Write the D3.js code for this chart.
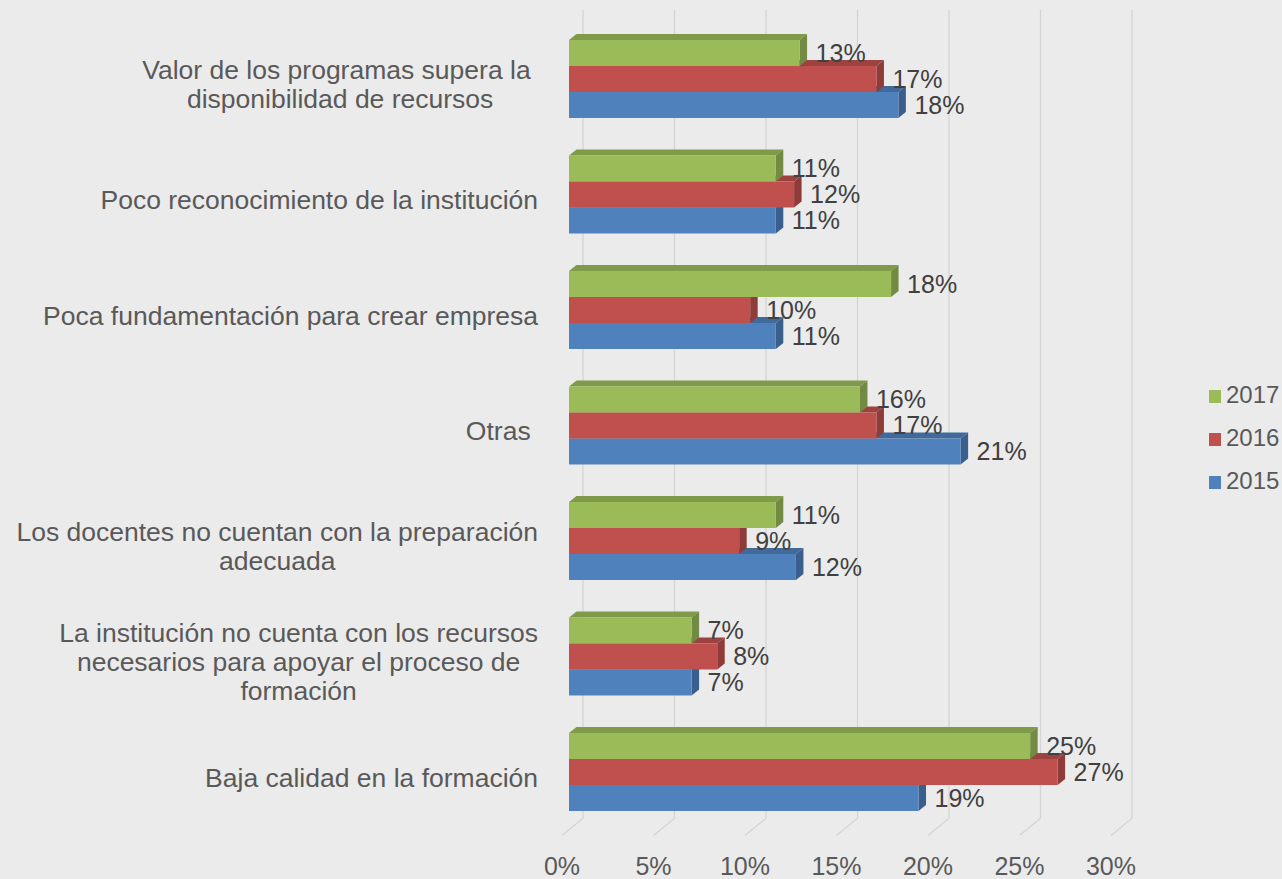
<!DOCTYPE html>
<html>
<head>
<meta charset="utf-8">
<script src="https://cdn.jsdelivr.net/npm/d3@7"></script>
<style>
  body { margin: 0; background: #ebebeb; }
  text { font-family: "Liberation Sans", Arial, sans-serif; }
</style>
</head>
<body>
<div id="chart"></div>
<script>
// 3D clustered bar chart (Excel style)

const W = 1282, H = 879;

// Data
const categories = [
  ['Valor de los programas supera la ', 'disponibilidad de recursos'],
  ['Poco reconocimiento de la institución'],
  ['Poca fundamentación para crear empresa'],
  ['Otras '],
  ['Los docentes no cuentan con la preparación', 'adecuada'],
  ['La institución no cuenta con los recursos', 'necesarios para apoyar el proceso de', 'formación'],
  ['Baja calidad en la formación']
];
const seriesNames = ['2017', '2016', '2015'];
const values2017 = [12.6, 11.3, 17.6, 15.9, 11.3, 6.7, 25.2];
const values2016 = [16.8, 12.3, 9.9, 16.8, 9.3, 8.1, 26.7];
const values2015 = [18.0, 11.3, 11.3, 21.4, 12.4, 6.7, 19.1];
const xTicks = [0, 5, 10, 15, 20, 25, 30];

const seriesValues = { '2017': values2017, '2016': values2016, '2015': values2015 };
const colors = { '2017': '#9bbb59', '2016': '#c0504d', '2015': '#4f81bd' };

// depth offsets
const barDepth = { dx: 7.5, dy: 6 };
const backWall = { dx: 14, dy: -11.5 };
const floorFront = { dx: -7, dy: 5.7 };

const svg = d3.select('#chart').append('svg')
  .attr('width', W)
  .attr('height', H);

svg.append('rect')
  .attr('width', W).attr('height', H)
  .attr('fill', '#ebebeb');

const catKeys = categories.map((c, i) => 'c' + i);

const x = d3.scaleLinear().domain([0, 30]).range([569, 1118]);
const y = d3.scaleBand()
  .domain(catKeys)
  .range([21.25, 829.75])
  .paddingInner(0.325)
  .paddingOuter(0.1625);
const yInner = d3.scaleBand()
  .domain(seriesNames)
  .range([0, y.bandwidth()]);

// gridlines on back wall + floor
const yTop = y.range()[0] + backWall.dy;
const yBottom = y.range()[1] + backWall.dy;
const grid = svg.append('g');
xTicks.forEach(t => {
  const xb = x(t) + backWall.dx;
  const xf = x(t) + floorFront.dx;
  grid.append('path')
    .attr('d', `M${xb},${yTop} L${xb},${yBottom} L${xf},${y.range()[1] + floorFront.dy}`)
    .attr('fill', 'none')
    .attr('stroke', '#d4d4d4')
    .attr('stroke-width', 1.3);
});

// bars: draw bottom series first so the upper bar covers its top face
const bars = svg.append('g');
categories.forEach((cat, i) => {
  const band = y(catKeys[i]);
  seriesNames.slice().reverse().forEach(s => {
    const v = seriesValues[s][i];
    const x0 = x(0), x1 = x(v);
    const y0 = band + yInner(s), h = yInner.bandwidth();
    const c = d3.color(colors[s]);
    const { dx, dy } = barDepth;
    // top face
    bars.append('path')
      .attr('d', `M${x0},${y0} L${x0 + dx},${y0 - dy} L${x1 + dx},${y0 - dy} L${x1},${y0} Z`)
      .attr('fill', c.darker(0.55));
    // side face
    bars.append('path')
      .attr('d', `M${x1},${y0} L${x1 + dx},${y0 - dy} L${x1 + dx},${y0 + h - dy} L${x1},${y0 + h} Z`)
      .attr('fill', c.darker(0.85));
    // front face
    bars.append('rect')
      .attr('x', x0).attr('y', y0)
      .attr('width', x1 - x0).attr('height', h)
      .attr('fill', colors[s]);
  });
});

// value labels
const fmt = d3.format('.0f');
const labels = svg.append('g');
categories.forEach((cat, i) => {
  seriesNames.forEach(s => {
    const v = seriesValues[s][i];
    labels.append('text')
      .attr('x', x(v) + 16)
      .attr('y', y(catKeys[i]) + yInner(s) + yInner.bandwidth() / 2)
      .attr('dy', '0.35em')
      .attr('fill', '#404040')
      .style('font-size', '25px')
      .text(fmt(v) + '%');
  });
});

// category labels
const catG = svg.append('g');
const lineH = 29;
categories.forEach((lines, i) => {
  const cy = y(catKeys[i]) + y.bandwidth() / 2 + floorFront.dy;
  const t = catG.append('text')
    .attr('fill', '#595959')
    .attr('text-anchor', 'middle')
    .style('font-size', '26.5px')
    .style('white-space', 'pre');
  const spans = lines.map((ln, j) => t.append('tspan')
    .attr('y', cy + (j - (lines.length - 1) / 2) * lineH)
    .attr('dy', '0.35em')
    .text(ln));
  const maxW = d3.max(spans, sp => sp.node().getComputedTextLength());
  spans.forEach(sp => sp.attr('x', 538 - maxW / 2));
});

// x axis tick labels
svg.append('g').selectAll('text')
  .data(xTicks)
  .join('text')
  .attr('x', d => x(d) + floorFront.dx)
  .attr('y', 875)
  .attr('text-anchor', 'middle')
  .attr('fill', '#595959')
  .style('font-size', '25px')
  .text(d => d + '%');

// legend
const legend = svg.append('g');
seriesNames.forEach((s, i) => {
  legend.append('rect')
    .attr('x', 1209).attr('y', 390 + i * 43)
    .attr('width', 12).attr('height', 13)
    .attr('fill', colors[s]);
  legend.append('text')
    .attr('x', 1226).attr('y', 403 + i * 43)
    .attr('fill', '#595959')
    .style('font-size', '24px')
    .text(s);
});
</script>
</body>
</html>
